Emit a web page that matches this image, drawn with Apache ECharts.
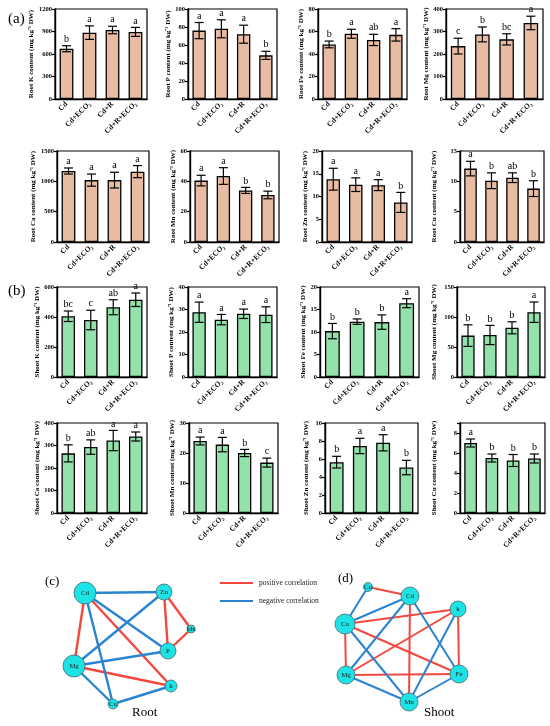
<!DOCTYPE html>
<html>
<head>
<meta charset="utf-8">
<title>Root and shoot nutrient contents</title>
<script src="https://cdn.jsdelivr.net/npm/echarts@6/dist/echarts.min.js"></script>
<style>
  html, body { margin: 0; padding: 0; background: #fff; }
  #charts { width: 550px; height: 726px; }
</style>
</head>
<body>
<div id="charts"></div>
<script>
// treatment groups (x axis)
var groups = ['Cd', 'Cd+ECO₂', 'Cd+R', 'Cd+R+ECO₂'];

// root contents: mean, sd, significance letters
var rootK = [670, 885, 920, 895];
var rootKSd = [40, 90, 50, 60];
var rootKSig = ['b', 'a', 'a', 'a'];
var rootP = [76, 78, 72, 48.5];
var rootPSd = [9, 10, 10, 4.5];
var rootPSig = ['a', 'a', 'a', 'b'];
var rootFe = [48.5, 58, 52.5, 57];
var rootFeSd = [3, 4, 5, 5.5];
var rootFeSig = ['b', 'a', 'ab', 'a'];
var rootMg = [235, 287, 265, 338];
var rootMgSd = [35, 33, 25, 30];
var rootMgSig = ['c', 'b', 'bc', 'a'];
var rootCa = [1170, 1020, 1020, 1160];
var rootCaSd = [50, 100, 130, 100];
var rootCaSig = ['a', 'a', 'a', 'a'];
var rootMn = [40.5, 43.5, 34, 31];
var rootMnSd = [3.5, 5.5, 2, 2.5];
var rootMnSig = ['a', 'a', 'b', 'b'];
var rootZn = [13.8, 12.6, 12.5, 8.7];
var rootZnSd = [2.4, 1.5, 1.2, 2.2];
var rootZnSig = ['a', 'a', 'a', 'b'];
var rootCu = [12.1, 10.1, 10.6, 8.8];
var rootCuSd = [1.2, 1.3, 0.8, 1.3];
var rootCuSig = ['a', 'b', 'ab', 'b'];

// shoot contents
var shootK = [405, 380, 465, 515];
var shootKSd = [35, 65, 50, 45];
var shootKSig = ['bc', 'c', 'ab', 'a'];
var shootP = [28.8, 25.5, 28.1, 27.7];
var shootPSd = [4.5, 2.3, 2.1, 3.5];
var shootPSig = ['a', 'a', 'a', 'a'];
var shootFe = [10.2, 12.3, 12.2, 16.4];
var shootFeSd = [1.7, 0.6, 1.6, 1.0];
var shootFeSig = ['b', 'b', 'b', 'a'];
var shootMg = [69, 70, 82, 108];
var shootMgSd = [18, 16, 10, 17];
var shootMgSig = ['b', 'b', 'b', 'a'];
var shootCa = [265, 293, 322, 340];
var shootCaSd = [38, 32, 45, 20];
var shootCaSig = ['b', 'ab', 'a', 'a'];
var shootMn = [24, 22.8, 20, 16.8];
var shootMnSd = [1.3, 2.4, 1.2, 1.5];
var shootMnSig = ['a', 'a', 'b', 'c'];
var shootZn = [5.65, 7.45, 7.8, 5.05];
var shootZnSd = [0.65, 0.85, 0.9, 0.8];
var shootZnSig = ['b', 'a', 'a', 'b'];
var shootCu = [7.0, 5.5, 5.25, 5.45];
var shootCuSd = [0.4, 0.4, 0.6, 0.45];
var shootCuSig = ['a', 'b', 'b', 'b'];

// y axis ranges [max, interval]
var axisRange = [
  [1200, 300], [100, 20], [80, 20], [400, 100],
  [1500, 500], [60, 20], [20, 5], [15, 5],
  [600, 200], [40, 10], [20, 5], [150, 50],
  [400, 100], [30, 10], [10, 2], [9, 2]
];

// correlation networks
var rootNodes = ['Cd', 'Zn', 'Mn', 'P', 'Mg', 'k', 'Cu'];
var rootPositive = [['Cd', 'Mg'], ['Cd', 'k'], ['Zn', 'P'], ['Zn', 'Mn'], ['Mn', 'P'], ['Mg', 'k']];
var rootNegative = [['Cd', 'Zn'], ['Cd', 'Cu'], ['Cd', 'P'], ['Zn', 'Mg'], ['Mg', 'P'], ['Mg', 'Cu'], ['Cu', 'k']];
var shootNodes = ['Cu', 'Cd', 'k', 'Ca', 'Mg', 'Fe', 'Mn'];
var shootPositive = [['Cu', 'Cd'], ['Cd', 'Mn'], ['k', 'Ca'], ['k', 'Mg'], ['k', 'Fe'], ['Ca', 'Mg'], ['Ca', 'Fe'], ['Mg', 'Fe']];
var shootNegative = [['Cu', 'Ca'], ['Cd', 'Ca'], ['Cd', 'Mg'], ['Cd', 'Fe'], ['k', 'Mn'], ['Ca', 'Mn'], ['Mg', 'Mn'], ['Fe', 'Mn']];

var SERIF = '"Liberation Serif", "Times New Roman", serif';
var ROOT_COLOR = '#e8bca3';
var SHOOT_COLOR = '#94e2ab';
var POS_COLOR = '#f2483f';
var NEG_COLOR = '#2a84d2';

var panels = [
  {name: 'Root K', mean: rootK, sd: rootKSd, sig: rootKSig},
  {name: 'Root P', mean: rootP, sd: rootPSd, sig: rootPSig},
  {name: 'Root Fe', mean: rootFe, sd: rootFeSd, sig: rootFeSig},
  {name: 'Root Mg', mean: rootMg, sd: rootMgSd, sig: rootMgSig},
  {name: 'Root Ca', mean: rootCa, sd: rootCaSd, sig: rootCaSig},
  {name: 'Root Mn', mean: rootMn, sd: rootMnSd, sig: rootMnSig},
  {name: 'Root Zn', mean: rootZn, sd: rootZnSd, sig: rootZnSig},
  {name: 'Root Cu', mean: rootCu, sd: rootCuSd, sig: rootCuSig},
  {name: 'Shoot K', mean: shootK, sd: shootKSd, sig: shootKSig},
  {name: 'Shoot P', mean: shootP, sd: shootPSd, sig: shootPSig},
  {name: 'Shoot Fe', mean: shootFe, sd: shootFeSd, sig: shootFeSig},
  {name: 'Shoot Mg', mean: shootMg, sd: shootMgSd, sig: shootMgSig},
  {name: 'Shoot Ca', mean: shootCa, sd: shootCaSd, sig: shootCaSig},
  {name: 'Shoot Mn', mean: shootMn, sd: shootMnSd, sig: shootMnSig},
  {name: 'Shoot Zn', mean: shootZn, sd: shootZnSd, sig: shootZnSig},
  {name: 'Shoot Cu', mean: shootCu, sd: shootCuSd, sig: shootCuSig}
];

var frameLeft = [[55, 188, 318, 446], [57, 190, 322, 460], [57, 188, 320, 457], [57, 189, 325, 460]];
var frameRight = [[147, 277, 407, 543], [149, 279, 412, 544], [147, 277, 419, 545], [147, 278, 418, 545]];
var frameTop = [9, 151, 287, 423];
var frameBottom = [99, 242, 377, 513];
var nameX = [40, 173, 306, 434];

var grids = [], xAxes = [], yAxes = [], series = [];

panels.forEach(function (p, i) {
  var row = Math.floor(i / 4), col = i % 4;
  var left = frameLeft[row][col];
  var step = axisRange[i][1];
  grids.push({
    left: left, top: frameTop[row],
    width: frameRight[row][col] - left, height: frameBottom[row] - frameTop[row],
    show: true, borderColor: '#000', borderWidth: 1.2, containLabel: false
  });
  xAxes.push({
    type: 'category', gridIndex: i, data: groups,
    axisLine: {lineStyle: {color: '#000', width: 1.4}},
    axisTick: {alignWithLabel: true, length: 3, lineStyle: {color: '#000', width: 1.2}},
    axisLabel: {rotate: 45, interval: 0, margin: 4, color: '#000', fontSize: 7.5, fontWeight: 'bold', fontFamily: SERIF}
  });
  yAxes.push({
    type: 'value', gridIndex: i, min: 0, max: axisRange[i][0], interval: step,
    name: p.name + ' content (mg kg⁻¹ DW)',
    nameLocation: 'middle', nameRotate: 90, nameGap: left - nameX[col] - 3.5,
    nameTextStyle: {color: '#000', fontSize: 7, fontWeight: 'bold', fontFamily: SERIF},
    axisLine: {show: true, lineStyle: {color: '#000', width: 1.4}},
    axisTick: {show: true, length: 3, lineStyle: {color: '#000', width: 1.2}},
    splitLine: {show: false},
    axisLabel: {
      margin: 3, color: '#000', fontSize: 6.5, fontWeight: 'bold', fontFamily: SERIF,
      formatter: function (v) { return v % step === 0 ? String(v) : ''; }
    }
  });
  series.push({
    type: 'bar', xAxisIndex: i, yAxisIndex: i, data: p.mean, barWidth: '60%',
    itemStyle: {color: row < 2 ? ROOT_COLOR : SHOOT_COLOR, borderColor: '#000', borderWidth: 1.3}
  });
  series.push({
    type: 'custom', xAxisIndex: i, yAxisIndex: i, z: 5,
    data: p.mean.map(function (m, k) { return [k, m, p.sd[k]]; }),
    renderItem: function (params, api) {
      var x = api.value(0), m = api.value(1), s = api.value(2);
      var hi = api.coord([x, m + s]), lo = api.coord([x, m - s]);
      var hw = 4.5, st = {stroke: '#000', lineWidth: 1.2};
      return {
        type: 'group',
        children: [
          {type: 'line', shape: {x1: hi[0], y1: hi[1], x2: lo[0], y2: lo[1]}, style: st},
          {type: 'line', shape: {x1: hi[0] - hw, y1: hi[1], x2: hi[0] + hw, y2: hi[1]}, style: st},
          {type: 'line', shape: {x1: lo[0] - hw, y1: lo[1], x2: lo[0] + hw, y2: lo[1]}, style: st},
          {type: 'text', x: hi[0], y: hi[1] - 1.5,
           style: {text: p.sig[params.dataIndex], align: 'center', verticalAlign: 'bottom',
                   fill: '#000', font: '10px ' + SERIF}}
        ]
      };
    }
  });
});

function networkLinks(pos, neg, width) {
  return pos.map(function (e) {
    return {source: e[0], target: e[1], lineStyle: {color: POS_COLOR, width: width, opacity: 1}};
  }).concat(neg.map(function (e) {
    return {source: e[0], target: e[1], lineStyle: {color: NEG_COLOR, width: width, opacity: 1}};
  }));
}

// node layout of the two networks (pixel positions and diameters)
var rootLayout = {Cd: [85, 593, 22], Zn: [164, 592, 16], Mn: [191, 629, 8], P: [168, 651, 16],
                  Mg: [74, 666, 22], k: [171, 686, 12], Cu: [113, 704, 10]};
var shootLayout = {Cu: [368, 587, 9], Cd: [410, 596, 18], k: [458, 609, 16], Ca: [345, 624, 20],
                   Mg: [346, 675, 18], Fe: [459, 674, 18], Mn: [409, 702, 18]};

function networkSeries(nodes, layout, links) {
  var xs = nodes.map(function (n) { return layout[n][0]; });
  var ys = nodes.map(function (n) { return layout[n][1]; });
  var x0 = Math.min.apply(null, xs), y0 = Math.min.apply(null, ys);
  return {
    type: 'graph', layout: 'none', roam: false, z: 10,
    left: x0, top: y0,
    width: Math.max.apply(null, xs) - x0, height: Math.max.apply(null, ys) - y0,
    data: nodes.map(function (n) {
      return {name: n, x: layout[n][0], y: layout[n][1], symbolSize: layout[n][2]};
    }),
    links: links,
    symbol: 'circle',
    itemStyle: {color: '#1ee3e6', borderColor: '#4a6a6a', borderWidth: 0.8},
    lineStyle: {opacity: 1},
    label: {show: true, position: 'inside', color: '#222', fontSize: 7, fontFamily: SERIF},
    emphasis: {disabled: true}
  };
}

series.push(networkSeries(rootNodes, rootLayout, networkLinks(rootPositive, rootNegative, 2.4)));
series.push(networkSeries(shootNodes, shootLayout, networkLinks(shootPositive, shootNegative, 2)));

var textStyle = function (txt, size) {
  return {text: txt, fill: '#000', font: size + 'px ' + SERIF};
};

var myChart = echarts.init(document.getElementById('charts'), null, {renderer: 'canvas'});
var option = {
  animation: false,
  backgroundColor: '#fff',
  grid: grids,
  xAxis: xAxes,
  yAxis: yAxes,
  series: series,
  graphic: [
    {type: 'text', left: 8, top: 12, style: textStyle('(a)', 15)},
    {type: 'text', left: 8, top: 284, style: textStyle('(b)', 15)},
    {type: 'text', left: 45, top: 575, style: textStyle('(c)', 13)},
    {type: 'text', left: 338, top: 572, style: textStyle('(d)', 13)},
    {type: 'text', left: 132, top: 706, style: textStyle('Root', 13)},
    {type: 'text', left: 424, top: 706, style: textStyle('Shoot', 13)},
    {type: 'line', shape: {x1: 220, y1: 583, x2: 253, y2: 583}, style: {stroke: POS_COLOR, lineWidth: 2}},
    {type: 'line', shape: {x1: 220, y1: 601, x2: 253, y2: 601}, style: {stroke: NEG_COLOR, lineWidth: 2}},
    {type: 'text', left: 259, top: 579, style: {text: 'positive correlation', fill: '#222', font: '7.5px ' + SERIF}},
    {type: 'text', left: 259, top: 597, style: {text: 'negative correlation', fill: '#222', font: '7.5px ' + SERIF}}
  ]
};
myChart.setOption(option);
</script>
</body>
</html>
